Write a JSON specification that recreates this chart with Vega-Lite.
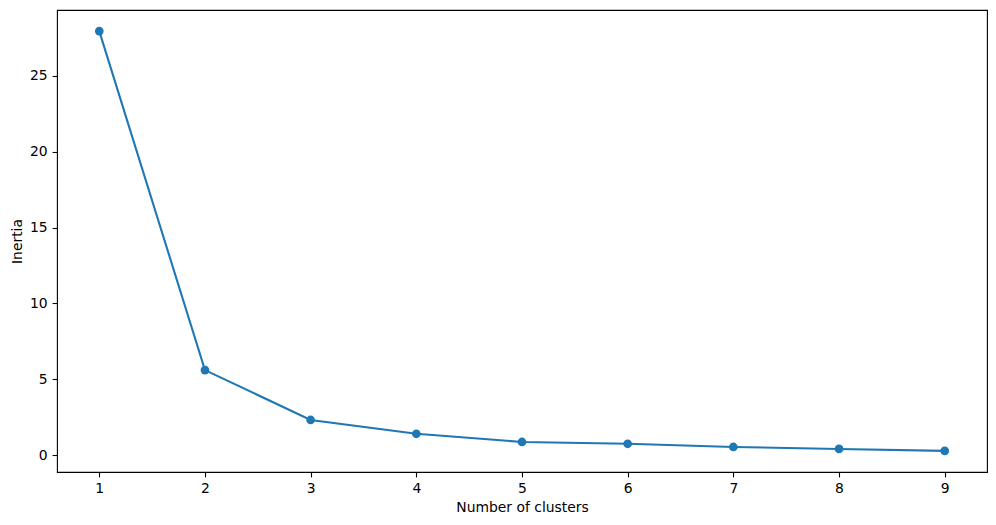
{
  "$schema": "https://vega.github.io/schema/vega-lite/v6.json",
  "width": 930,
  "height": 462,
  "autosize": {"type": "none"},
  "padding": {"left": 57, "top": 10, "right": 9, "bottom": 53},
  "background": "white",
  "data": {
    "values": [
      {"clusters": 1, "inertia": 27.95},
      {"clusters": 2, "inertia": 5.6},
      {"clusters": 3, "inertia": 2.31},
      {"clusters": 4, "inertia": 1.4},
      {"clusters": 5, "inertia": 0.86},
      {"clusters": 6, "inertia": 0.74},
      {"clusters": 7, "inertia": 0.53},
      {"clusters": 8, "inertia": 0.4},
      {"clusters": 9, "inertia": 0.27}
    ]
  },
  "encoding": {
    "x": {
      "field": "clusters",
      "type": "quantitative",
      "title": "Number of clusters",
      "scale": {"domain": [0.6, 9.4], "nice": false, "zero": false},
      "axis": {"values": [1, 2, 3, 4, 5, 6, 7, 8, 9], "format": "d"}
    },
    "y": {
      "field": "inertia",
      "type": "quantitative",
      "title": "Inertia",
      "scale": {"domain": [-1.12, 29.34], "nice": false, "zero": false},
      "axis": {"values": [0, 5, 10, 15, 20, 25], "format": "d"}
    }
  },
  "layer": [
    {"mark": {"type": "line", "color": "#1f77b4", "strokeWidth": 2.1}},
    {"mark": {"type": "point", "shape": "circle", "filled": true, "opacity": 1, "color": "#1f77b4", "size": 76}}
  ],
  "config": {
    "font": "DejaVu Sans",
    "view": {"stroke": "black", "strokeWidth": 1.1},
    "axis": {
      "grid": false,
      "domain": false,
      "ticks": true,
      "tickColor": "black",
      "tickSize": 4.9,
      "tickWidth": 1.1,
      "labelPadding": 4.9,
      "labelFont": "DejaVu Sans",
      "labelFontSize": 13.9,
      "labelColor": "black",
      "titleFont": "DejaVu Sans",
      "titleFontSize": 13.9,
      "titleFontWeight": "normal",
      "titleColor": "black",
      "titlePadding": 5
    }
  }
}
